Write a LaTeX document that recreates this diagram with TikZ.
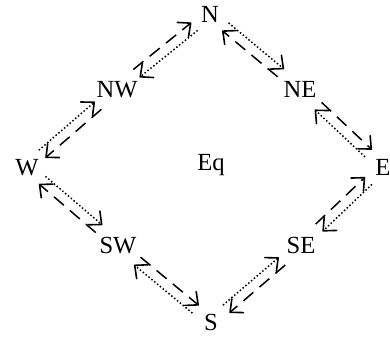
\documentclass[tikz,border=0pt]{standalone}
\usepackage{fontspec}
\setmainfont{Liberation Serif}
\usetikzlibrary{calc,arrows.meta}
\newcommand\parr[5]{%
  \draw[#1] ($(#2)!#3!(#4)!2.5pt!90:(#4)$) -- ($(#4)!#5!(#2)!2.5pt!-90:(#2)$);}
\begin{document}
\begin{tikzpicture}[x=0.5pt,y=-0.5pt,
  lbl/.style={anchor=base,inner sep=0pt,font=\fontsize{12.3}{14}\selectfont},
  arr/.style={line width=0.75pt,-{Straight Barb[length=5pt,width=9pt,line width=0.8pt,round]}},
  dsh/.style={arr,dash pattern=on 6.5pt off 4pt},
  dtt/.style={arr,dash pattern=on 0.75pt off 1.1pt}]
\useasboundingbox (0,0) rectangle (390,337);
\node[lbl] (N)  at (210,22)  {N};
\node[lbl] (NE) at (300,97)  {NE};
\node[lbl] (E)  at (383,175) {E};
\node[lbl] (SE) at (301,253) {SE};
\node[lbl] (S)  at (211,330) {S};
\node[lbl] (SW) at (118,253) {SW};
\node[lbl] (W)  at (27,175)  {W};
\node[lbl] (NW) at (117,97)  {NW};
\node[lbl] (Eq) at (211,170) {Eq};
% clockwise (outside)
\parr{dtt}{N}{10pt}{NE}{12.5pt}
\parr{dsh}{NE}{12.5pt}{E}{10pt}
\parr{dtt}{E}{10pt}{SE}{12.5pt}
\parr{dsh}{SE}{12.5pt}{S}{10pt}
\parr{dtt}{S}{10pt}{SW}{12.5pt}
\parr{dsh}{SW}{12.5pt}{W}{10pt}
\parr{dtt}{W}{10pt}{NW}{12.5pt}
\parr{dsh}{NW}{12.5pt}{N}{10pt}
% counter-clockwise (inside)
\parr{dsh}{NE}{12.5pt}{N}{10pt}
\parr{dtt}{E}{10pt}{NE}{12.5pt}
\parr{dsh}{SE}{12.5pt}{E}{10pt}
\parr{dtt}{S}{10pt}{SE}{12.5pt}
\parr{dsh}{SW}{12.5pt}{S}{10pt}
\parr{dtt}{W}{10pt}{SW}{12.5pt}
\parr{dsh}{NW}{12.5pt}{W}{10pt}
\parr{dtt}{N}{10pt}{NW}{12.5pt}
\end{tikzpicture}
\end{document}
